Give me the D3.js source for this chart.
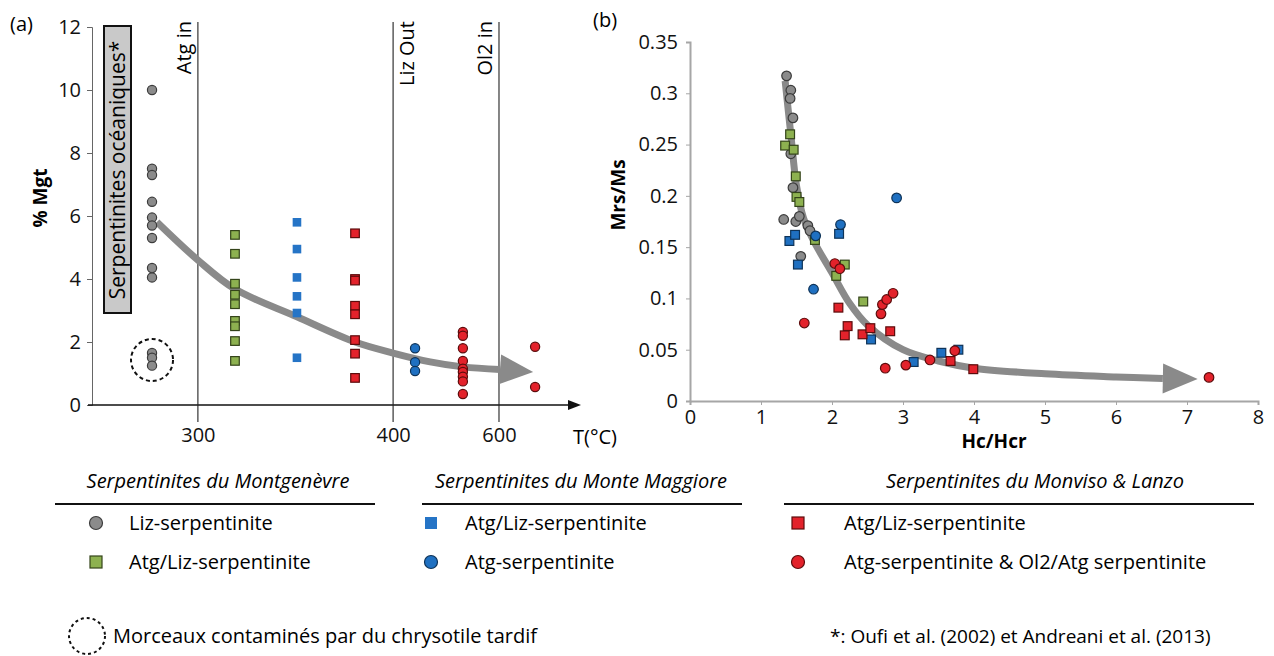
<!DOCTYPE html>
<html>
<head>
<meta charset="utf-8">
<script src="https://cdn.jsdelivr.net/npm/d3@7"></script>
<style>
  body { margin: 0; background: #fff; }
  svg { font-family: "Open Sans", sans-serif; }
</style>
</head>
<body>
<div id="chart"></div>
<script>
// ---- panel (a) : % Mgt vs temperature slot ----
var tTickLabels = ["300", "400", "600"];
var tTickPos = [21.7, 61.7, 83.4];          // slot of each phase line
var phaseLabels = ["Atg in", "Liz Out", "Ol2 in"];
var mgtTicks = [0, 2, 4, 6, 8, 10, 12];

// slot of each sample group on the T axis
var slotMontLiz = 12.3, slotMontAtgLiz = 29.3, slotMmAtgLiz = 42, slotMvAtgLiz = 53.9,
    slotMmAtg = 66.2, slotMvAtg = 76, slotMvAtgHot = 90.8;

var mgtMontLiz = [10.0, 7.5, 7.3, 6.45, 5.95, 5.7, 5.3, 4.35, 4.05, 1.65, 1.5, 1.25];
var mgtMontAtgLiz = [5.4, 4.8, 3.85, 3.5, 3.2, 2.67, 2.5, 2.03, 1.4];
var mgtMmAtgLiz = [5.8, 4.95, 4.05, 3.45, 2.92, 1.5];
var mgtMvAtgLiz = [5.45, 4.0, 3.95, 3.15, 2.88, 2.06, 1.63, 0.86];
var mgtMmAtg = [1.8, 1.36, 1.08];
var mgtMvAtg = [2.32, 2.2, 1.8, 1.4, 1.15, 1.05, 0.9, 0.75, 0.35];
var mgtMvAtgHot = [1.85, 0.57];

// trend arrow (a), last point = tip
var trendA = [[13.3, 5.81], [21.7, 4.6], [29.3, 3.68], [42, 2.8], [53.9, 2.0], [61.7, 1.65],
              [69.3, 1.37], [76, 1.21], [83.6, 1.13], [90.4, 1.05]];

// ---- panel (b) : Mrs/Ms vs Hc/Hcr ----
var hcTicks = [0, 1, 2, 3, 4, 5, 6, 7, 8];
var mrsTicks = [0, 0.05, 0.1, 0.15, 0.2, 0.25, 0.3, 0.35];

var bMontLiz = [[1.36,0.317],[1.42,0.303],[1.41,0.295],[1.45,0.276],[1.42,0.241],[1.45,0.208],
                [1.32,0.177],[1.49,0.175],[1.54,0.18],[1.66,0.171],[1.69,0.166],[1.56,0.141]];
var bMontAtgLiz = [[1.41,0.26],[1.34,0.249],[1.46,0.245],[1.49,0.219],[1.5,0.199],[1.54,0.194],
                   [1.76,0.157],[2.18,0.133],[2.06,0.122],[2.44,0.097]];
var bMmAtgLiz = [[1.40,0.156],[1.48,0.162],[1.52,0.133],[2.1,0.163],[2.55,0.06],[3.15,0.038],
                 [3.54,0.047],[3.78,0.05]];
var bMmAtg = [[2.91,0.198],[2.12,0.172],[1.77,0.161],[1.74,0.109]];
var bMvAtgLiz = [[2.09,0.091],[2.22,0.073],[2.18,0.064],[2.43,0.065],[2.54,0.071],[2.82,0.068],
                 [3.67,0.039],[3.99,0.031]];
var bMvAtg = [[1.61,0.076],[2.04,0.134],[2.11,0.129],[2.69,0.085],[2.71,0.094],[2.77,0.099],
              [2.86,0.105],[2.75,0.032],[3.04,0.035],[3.38,0.040],[3.73,0.049],[7.31,0.023]];

var trendB = [[1.34,0.312],[1.42,0.26],[1.5,0.21],[1.6,0.178],[1.75,0.155],[2.0,0.125],
              [2.25,0.095],[2.5,0.074],[3.0,0.05],[3.5,0.039],[4.0,0.032],[5.0,0.0265],
              [6.0,0.0235],[6.66,0.022],[7.15,0.0214]];

// legend
var groupNames = ["Serpentinites du Montgenèvre", "Serpentinites du Monte Maggiore", "Serpentinites du Monviso & Lanzo"];
var legendItems = [
  [["circle", "gray", "Liz-serpentinite"], ["square", "green", "Atg/Liz-serpentinite"]],
  [["square", "blueflat", "Atg/Liz-serpentinite"], ["circle", "blue", "Atg-serpentinite"]],
  [["square", "red", "Atg/Liz-serpentinite"], ["circle", "red", "Atg-serpentinite & Ol2/Atg serpentinite"]]
];

var col = {
  gray:  {fill: "#8b8b8b", stroke: "#3c3c3c"},
  green: {fill: "#8db150", stroke: "#34441a"},
  blue:  {fill: "#1f70c1", stroke: "#0e3358"},
  blueflat: {fill: "#2574c6", stroke: "none"},
  red:   {fill: "#e3222b", stroke: "#5c0c0c"}
};

var svg = d3.select("#chart").append("svg")
  .attr("width", 1274).attr("height", 656);

function drawMarks(g, pts, shape, c, r) {
  if (shape === "circle") {
    g.selectAll(null).data(pts).enter().append("circle")
      .attr("cx", d => d[0]).attr("cy", d => d[1]).attr("r", r)
      .attr("fill", c.fill).attr("stroke", c.stroke).attr("stroke-width", 1.2);
  } else {
    g.selectAll(null).data(pts).enter().append("rect")
      .attr("x", d => d[0] - r).attr("y", d => d[1] - r)
      .attr("width", 2 * r).attr("height", 2 * r)
      .attr("fill", c.fill).attr("stroke", c.stroke).attr("stroke-width", 1.2);
  }
}

function drawArrow(g, pts, width, head) {
  var n = pts.length;
  var shaft = pts.slice(0, n - 1);
  g.append("path")
    .attr("d", d3.line().curve(d3.curveCatmullRom)(shaft))
    .attr("fill", "none").attr("stroke", "#8a8a8a")
    .attr("stroke-width", width).attr("stroke-linecap", "butt");
  var b = pts[n - 2], t = pts[n - 1];
  var dx = t[0] - b[0], dy = t[1] - b[1], len = Math.hypot(dx, dy);
  var nx = -dy / len, ny = dx / len;
  g.append("polygon")
    .attr("points", [[b[0] + nx * head, b[1] + ny * head], t, [b[0] - nx * head, b[1] - ny * head]]
      .map(p => p.join(",")).join(" "))
    .attr("fill", "#8a8a8a");
}

// ================= panel (a) =================
var xA = d3.scaleLinear().domain([0, 100]).range([92, 580]);
var yA = d3.scaleLinear().domain([0, 12]).range([405, 27]);
var gA = svg.append("g");

gA.append("text").attr("x", 10).attr("y", 24).attr("dy", "0.35em")
  .attr("font-size", 20).text("(a)");

// y axis
var axA = gA.append("g").attr("transform", "translate(" + xA(0) + ",0)")
  .call(d3.axisLeft(yA).tickValues(mgtTicks).tickSize(5).tickPadding(6));
axA.select(".domain").attr("stroke", "#666");
axA.selectAll(".tick line").attr("stroke", "#666");
axA.selectAll(".tick text").attr("font-size", 20).attr("font-family", "Open Sans").attr("fill", "#111");

gA.append("text")
  .attr("transform", "translate(40," + 198 + ") rotate(-90)")
  .attr("text-anchor", "middle").attr("dy", "0.35em")
  .attr("font-size", 19).attr("font-weight", "bold").text("% Mgt");

// x axis with arrow
gA.append("line").attr("x1", 88).attr("x2", 572).attr("y1", yA(0)).attr("y2", yA(0))
  .attr("stroke", "#111").attr("stroke-width", 1.5);
gA.append("polygon")
  .attr("points", [[568, yA(0) - 5], [581, yA(0)], [568, yA(0) + 5]].map(p => p.join(",")).join(" "))
  .attr("fill", "#111");
var axAx = gA.append("g").attr("transform", "translate(0," + (yA(0) + 17) + ")")
  .call(d3.axisBottom(xA).tickValues(tTickPos).tickFormat((d, i) => tTickLabels[i]).tickSize(0).tickPadding(6));
axAx.select(".domain").remove();
axAx.selectAll(".tick text").attr("font-size", 20).attr("font-family", "Open Sans").attr("fill", "#111");

gA.append("text").attr("x", 573).attr("y", 437).attr("dy", "0.35em")
  .attr("font-size", 20).text("T(°C)");

// phase lines
gA.selectAll(".phase").data(tTickPos).enter().append("line")
  .attr("x1", d => xA(d)).attr("x2", d => xA(d))
  .attr("y1", 22).attr("y2", 422)
  .attr("stroke", "#222").attr("stroke-width", 1.1);
var labelSide = [-1, 1, -1];
gA.selectAll(".phaseLbl").data(tTickPos).enter().append("text")
  .attr("transform", (d, i) => "translate(" + (xA(d) + labelSide[i] * 14) + ",21) rotate(-90)")
  .attr("text-anchor", "end").attr("dy", "0.35em")
  .attr("font-size", 20).text((d, i) => phaseLabels[i]);

// oceanic serpentinites box
gA.append("rect").attr("x", 104).attr("y", 26).attr("width", 27).attr("height", 287)
  .attr("fill", "#c9c9c9").attr("stroke", "#111").attr("stroke-width", 2);
gA.append("text")
  .attr("transform", "translate(118,170) rotate(-90)")
  .attr("text-anchor", "middle").attr("dy", "0.35em")
  .attr("font-size", 21).text("Serpentinites océaniques*");

// contaminated samples circle
gA.append("circle").attr("cx", xA(slotMontLiz)).attr("cy", 360).attr("r", 21)
  .attr("fill", "none").attr("stroke", "#111").attr("stroke-width", 2)
  .attr("stroke-dasharray", "4,3");

drawArrow(gA, trendA.map(d => [xA(d[0]), yA(d[1])]), 7, 15);

function colA(slot, vals) { return vals.map(v => [xA(slot), yA(v)]); }
drawMarks(gA, colA(slotMontLiz, mgtMontLiz), "circle", col.gray, 4.6);
drawMarks(gA, colA(slotMontAtgLiz, mgtMontAtgLiz), "square", col.green, 4.3);
drawMarks(gA, colA(slotMmAtgLiz, mgtMmAtgLiz), "square", col.blueflat, 4.3);
drawMarks(gA, colA(slotMvAtgLiz, mgtMvAtgLiz), "square", col.red, 4.3);
drawMarks(gA, colA(slotMmAtg, mgtMmAtg), "circle", col.blue, 4.6);
drawMarks(gA, colA(slotMvAtg, mgtMvAtg), "circle", col.red, 4.6);
drawMarks(gA, colA(slotMvAtgHot, mgtMvAtgHot), "circle", col.red, 4.6);

// ================= panel (b) =================
var xB = d3.scaleLinear().domain([0, 8]).range([690, 1258]);
var yB = d3.scaleLinear().domain([0, 0.35]).range([401, 42]);
var gB = svg.append("g");

gB.append("text").attr("x", 593).attr("y", 20).attr("dy", "0.35em")
  .attr("font-size", 20).text("(b)");

var fmt = d => d === 0 ? "0" : String(+d.toFixed(2));
var ayB = gB.append("g").attr("transform", "translate(" + xB(0) + ",0)")
  .call(d3.axisLeft(yB).tickValues(mrsTicks).tickFormat(fmt).tickSize(4).tickPadding(8));
var axB = gB.append("g").attr("transform", "translate(0," + yB(0) + ")")
  .call(d3.axisBottom(xB).tickValues(hcTicks).tickSize(4).tickPadding(5));
[ayB, axB].forEach(a => {
  a.select(".domain").attr("stroke", "#a6a6a6").attr("stroke-width", 2);
  a.selectAll(".tick line").attr("stroke", "#a6a6a6");
  a.selectAll(".tick text").attr("font-size", 20).attr("font-family", "Open Sans").attr("fill", "#111");
});

gB.append("text")
  .attr("transform", "translate(618,195) rotate(-90)")
  .attr("text-anchor", "middle").attr("dy", "0.35em")
  .attr("font-size", 19).attr("font-weight", "bold").text("Mrs/Ms");
gB.append("text").attr("x", 994).attr("y", 441).attr("dy", "0.35em")
  .attr("text-anchor", "middle")
  .attr("font-size", 19).attr("font-weight", "bold").text("Hc/Hcr");

drawArrow(gB, trendB.map(d => [xB(d[0]), yB(d[1])]), 7, 15);

function ptsB(arr) { return arr.map(d => [xB(d[0]), yB(d[1])]); }
drawMarks(gB, ptsB(bMontLiz), "circle", col.gray, 4.8);
drawMarks(gB, ptsB(bMontAtgLiz), "square", col.green, 4.4);
drawMarks(gB, ptsB(bMmAtgLiz), "square", col.blue, 4.4);
drawMarks(gB, ptsB(bMmAtg), "circle", col.blue, 4.8);
drawMarks(gB, ptsB(bMvAtgLiz), "square", col.red, 4.4);
drawMarks(gB, ptsB(bMvAtg), "circle", col.red, 4.8);

// ================= legend =================
var lg = svg.append("g");
var headerX = [218, 581, 1035];
var lineX = [[55, 375], [422, 742], [784, 1254]];
var symX = [96, 431, 798];
var txtX = [129, 465, 844];
var rowY = [523, 562];

groupNames.forEach((name, i) => {
  lg.append("text").attr("x", headerX[i]).attr("y", 481).attr("dy", "0.35em")
    .attr("text-anchor", "middle").attr("font-style", "italic")
    .attr("font-size", 20).text(name);
  lg.append("line").attr("x1", lineX[i][0]).attr("x2", lineX[i][1])
    .attr("y1", 504).attr("y2", 504).attr("stroke", "#111").attr("stroke-width", 2);
  legendItems[i].forEach((it, j) => {
    var c = col[it[1]];
    var lc = {fill: c.fill, stroke: it[1] === "blueflat" ? "none" : c.stroke};
    drawMarks(lg, [[symX[i], rowY[j]]], it[0], lc, it[0] === "circle" ? 6.5 : 6);
    lg.append("text").attr("x", txtX[i]).attr("y", rowY[j]).attr("dy", "0.35em")
      .attr("font-size", 20).text(it[2]);
  });
});

lg.append("circle").attr("cx", 87).attr("cy", 636).attr("r", 18)
  .attr("fill", "none").attr("stroke", "#111").attr("stroke-width", 2)
  .attr("stroke-dasharray", "3,3");
lg.append("text").attr("x", 113).attr("y", 636).attr("dy", "0.35em")
  .attr("font-size", 20).text("Morceaux contaminés par du chrysotile tardif");
lg.append("text").attr("x", 830).attr("y", 636).attr("dy", "0.35em")
  .attr("font-size", 19).text("*: Oufi et al. (2002) et Andreani et al. (2013)");
</script>
</body>
</html>
